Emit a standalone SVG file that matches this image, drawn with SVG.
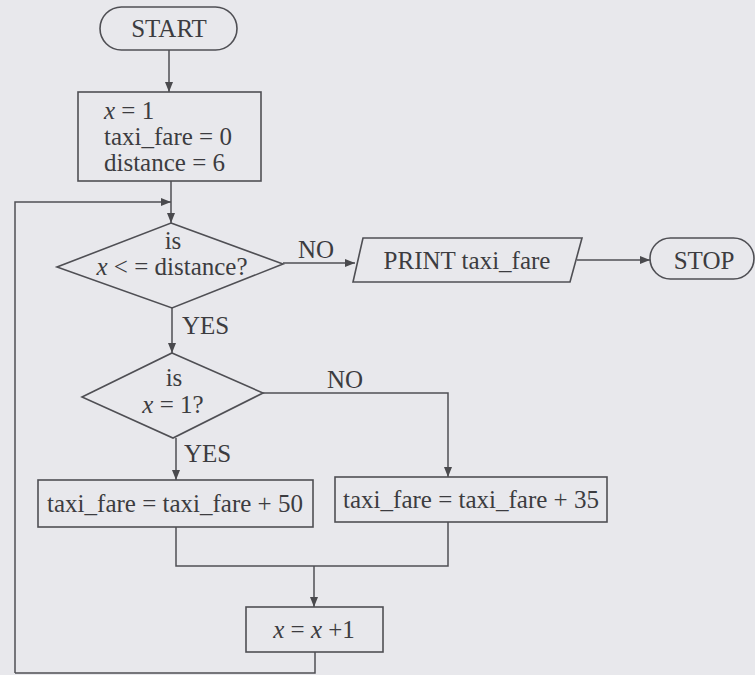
<svg xmlns="http://www.w3.org/2000/svg" width="755" height="675" viewBox="0 0 755 675">
<defs>
<marker id="ah" viewBox="0 0 10 8" refX="10" refY="4" markerWidth="10" markerHeight="8" markerUnits="userSpaceOnUse" orient="auto">
<path d="M0,0 L10,4 L0,8 Z" fill="#4a4a4e"/>
</marker>
</defs>
<style>
.s{fill:none;stroke:#4f4f54;stroke-width:1.6}
.c{fill:none;stroke:#4f4f54;stroke-width:1.5}
.a{marker-end:url(#ah)}
text{font-family:"Liberation Serif","Times New Roman","DejaVu Serif",serif;font-size:25px;fill:#3c3c40}
.m{text-anchor:middle}
.i{font-style:italic}
</style>
<rect x="0" y="0" width="755" height="675" fill="#e8e8ec"/>

<g id="connectors">
<path class="c a" d="M169,50 L169,92"/>
<path class="c a" d="M171,181 L171,223"/>
<path class="c a" d="M15,673 L15,202 L171,202"/>
<path class="c a" d="M283,263 L355,263"/>
<path class="c a" d="M577,260 L650,260"/>
<path class="c a" d="M172,308 L172,353"/>
<path class="c a" d="M263,393 L448,393 L448,477"/>
<path class="c a" d="M176,438 L176,480"/>
<path class="c" d="M176,527 L176,566 L448,566 L448,522"/>
<path class="c a" d="M314,566 L314,607"/>
<path class="c" d="M315,652 L315,673 L15,673"/>
</g>

<g id="start">
<rect class="s" x="100" y="7" width="137" height="43" rx="21.5"/>
<text class="m" x="169" y="37">START</text>
</g>

<g id="init">
<rect class="s" x="78" y="92" width="183" height="89"/>
<text x="104" y="119"><tspan class="i">x</tspan> = 1</text>
<text x="104" y="145">taxi_fare = 0</text>
<text x="104" y="171">distance = 6</text>
</g>

<g id="cond1">
<polygon class="s" points="171,223 283,264 172,308 57,267"/>
<text class="m" x="173" y="249">is</text>
<text class="m" x="172" y="275"><tspan class="i">x</tspan> &lt; = distance?</text>
</g>

<g id="print">
<polygon class="s" points="363,238 582,238 570,282 353,282"/>
<text class="m" x="467" y="269">PRINT taxi_fare</text>
</g>

<g id="stop">
<rect class="s" x="650" y="238" width="104" height="41" rx="20.5"/>
<text class="m" x="704" y="269">STOP</text>
</g>

<g id="cond2">
<polygon class="s" points="172,353 263,393 173,438 82,397"/>
<text class="m" x="174" y="386">is</text>
<text class="m" x="173" y="413"><tspan class="i">x</tspan> = 1?</text>
</g>

<g id="add50">
<rect class="s" x="38" y="480" width="275" height="47"/>
<text class="m" x="175" y="512">taxi_fare = taxi_fare + 50</text>
</g>

<g id="add35">
<rect class="s" x="335" y="477" width="272" height="45"/>
<text class="m" x="471" y="508">taxi_fare = taxi_fare + 35</text>
</g>

<g id="incr">
<rect class="s" x="246" y="607" width="137" height="45"/>
<text class="m" x="314" y="638"><tspan class="i">x</tspan> = <tspan class="i">x</tspan> +1</text>
</g>

<g id="labels">
<text x="298" y="258">NO</text>
<text x="182" y="334">YES</text>
<text x="327" y="388">NO</text>
<text x="184" y="462">YES</text>
</g>
</svg>
